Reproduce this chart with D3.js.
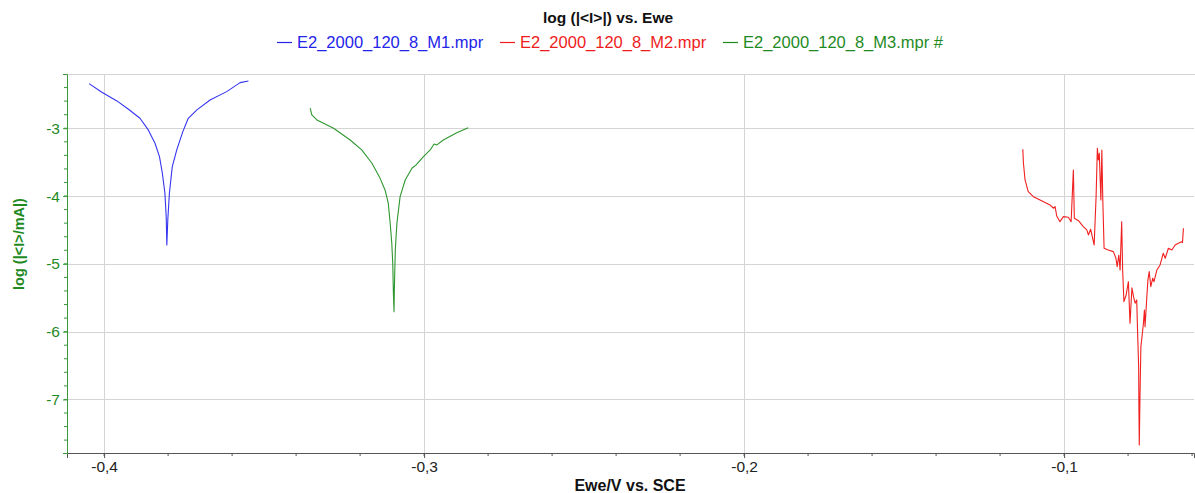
<!DOCTYPE html>
<html>
<head>
<meta charset="utf-8">
<script src="https://cdn.jsdelivr.net/npm/d3@7"></script>
<style>
  html, body { margin: 0; padding: 0; background: #fff; }
  svg { display: block; font-family: "Liberation Sans", Arial, sans-serif; }
</style>
</head>
<body>
<svg id="chart" width="1195" height="493"></svg>
<script>
// Tafel-style polarisation curves: log|I| against Ewe for three samples
const seriesNames = ["E2_2000_120_8_M1.mpr", "E2_2000_120_8_M2.mpr", "E2_2000_120_8_M3.mpr #"];
const seriesColors = ["#3535f0", "#f02020", "#2e962e"];
const legendColors = ["#2424e8", "#ee1c1c", "#1f8a1f"];

// M1 (Ewe / V vs. SCE, log |I/mA|)
const m1E = [-0.4047, -0.4007, -0.3960, -0.3924, -0.3888, -0.3862, -0.3841, -0.3827, -0.3818, -0.3810,
             -0.3806, -0.3804, -0.3801, -0.3796, -0.3787, -0.3773, -0.3754, -0.3737, -0.3710, -0.3669,
             -0.3617, -0.3575, -0.3549];
const m1LogI = [-2.342, -2.469, -2.597, -2.720, -2.853, -3.025, -3.221, -3.419, -3.664, -3.959,
                -4.304, -4.721, -4.352, -3.959, -3.566, -3.320, -3.050, -2.853, -2.730, -2.583,
                -2.460, -2.327, -2.302];

// M2
const m2E = [-0.1129, -0.1127, -0.1122, -0.1112, -0.1096, -0.1075, -0.1044, -0.1033, -0.1028, -0.1023,
             -0.1013, -0.1002, -0.0987, -0.0978, -0.0971, -0.0968, -0.0955, -0.0940, -0.0929, -0.0924,
             -0.0917, -0.0906, -0.0900, -0.0896, -0.0893, -0.0890, -0.0885, -0.0882, -0.0879, -0.0875,
             -0.0862, -0.0846, -0.0838, -0.0834, -0.0829, -0.0825, -0.0820, -0.0817, -0.0813, -0.0806,
             -0.0799, -0.0794, -0.0788, -0.0783, -0.0778, -0.0773, -0.0770, -0.0767, -0.0766, -0.0765,
             -0.0763, -0.0760, -0.0757, -0.0752, -0.0749, -0.0747, -0.0742, -0.0738, -0.0734, -0.0729,
             -0.0723, -0.0719, -0.0710, -0.0700, -0.0690, -0.0684, -0.0674, -0.0663, -0.0653, -0.0643,
             -0.0632, -0.0630, -0.0627];
const m2LogI = [-3.310, -3.516, -3.763, -3.935, -4.009, -4.058, -4.131, -4.180, -4.156, -4.294,
                -4.378, -4.304, -4.313, -4.378, -3.615, -4.327, -4.363, -4.451, -4.500, -4.574,
                -4.490, -4.721, -4.009, -3.295, -3.468, -3.369, -4.058, -3.320, -4.058, -4.770,
                -4.795, -4.820, -4.917, -5.041, -4.869, -5.090, -4.378, -5.090, -5.557, -5.459,
                -5.263, -5.876, -5.355, -5.484, -5.581, -5.532, -6.049, -6.516, -7.204, -7.671,
                -7.007, -6.221, -6.097, -5.876, -5.680, -5.926, -5.532, -5.237, -5.115, -5.336,
                -5.212, -5.263, -5.090, -5.016, -4.844, -4.917, -4.770, -4.795, -4.721, -4.696,
                -4.673, -4.687, -4.475];

// M3
const m3E = [-0.3356, -0.3351, -0.3335, -0.3283, -0.3231, -0.3195, -0.3163, -0.3140, -0.3122, -0.3112,
             -0.3106, -0.3101, -0.3098, -0.3096, -0.3094, -0.3093, -0.3090, -0.3085, -0.3075, -0.3059,
             -0.3038, -0.3025, -0.3002, -0.2981, -0.2969, -0.2960, -0.2940, -0.2898, -0.2862];
const m3LogI = [-2.705, -2.804, -2.878, -3.000, -3.173, -3.320, -3.516, -3.714, -3.910, -4.106,
                -4.401, -4.696, -4.991, -5.434, -5.705, -5.385, -4.795, -4.401, -4.009, -3.763,
                -3.590, -3.541, -3.419, -3.320, -3.232, -3.246, -3.173, -3.065, -2.991];

const xMajorTicks = [-0.4, -0.3, -0.2, -0.1];
const yMajorTicks = [-7, -6, -5, -4, -3];

const W = 1195, H = 493;
const margin = { left: 67, right: 1, top: 74, bottom: 40 };
const svg = d3.select("#chart");

const x = d3.scaleLinear().domain([-0.4116, -0.0594]).range([margin.left, W - margin.right]);
const y = d3.scaleLinear().domain([-7.79, -2.2]).range([H - margin.bottom, margin.top]);

const fmtX = v => d3.format(".1f")(v).replace("−", "-").replace(".", ",");
const fmtY = v => d3.format("d")(v).replace("−", "-");

// grid
const grid = svg.append("g").attr("stroke", "#d4d4d4").attr("stroke-width", 1);
xMajorTicks.forEach(t => grid.append("line")
  .attr("x1", Math.round(x(t)) + 0.5).attr("x2", Math.round(x(t)) + 0.5)
  .attr("y1", margin.top).attr("y2", H - margin.bottom));
yMajorTicks.forEach(t => grid.append("line")
  .attr("x1", margin.left).attr("x2", W - margin.right)
  .attr("y1", Math.round(y(t)) + 0.5).attr("y2", Math.round(y(t)) + 0.5));
grid.append("line").attr("x1", margin.left).attr("x2", W)
  .attr("y1", margin.top + 0.5).attr("y2", margin.top + 0.5);

// minor ticks
const xMinor = d3.range(-0.40, -0.059, 0.02).filter(v => v >= -0.4116);
const yMinor = d3.range(-7.8, -2.19, 0.2).filter(v => v >= -7.79 && v <= -2.2);

// x axis
const xAxisG = svg.append("g").attr("transform", `translate(0,${H - margin.bottom})`);
xAxisG.call(d3.axisBottom(x).tickValues(xMajorTicks).tickFormat(fmtX).tickSize(5).tickPadding(3));
xAxisG.selectAll(".tick text").attr("font-size", 15.5).attr("fill", "#222").attr("font-family", "Liberation Sans, Arial, sans-serif");
xAxisG.select(".domain").attr("stroke", "#555");
xAxisG.selectAll(".tick line").attr("stroke", "#555");
xAxisG.append("g").selectAll("line").data(xMinor).join("line")
  .attr("x1", d => x(d)).attr("x2", d => x(d)).attr("y1", 0).attr("y2", 3).attr("stroke", "#555");

// y axis
const yAxisG = svg.append("g").attr("transform", `translate(${margin.left},0)`);
yAxisG.call(d3.axisLeft(y).tickValues(yMajorTicks).tickFormat(fmtY).tickSize(4).tickPadding(3));
yAxisG.selectAll(".tick text").attr("font-size", 15.5).attr("fill", "#1f8a1f").attr("font-family", "Liberation Sans, Arial, sans-serif");
yAxisG.select(".domain").attr("stroke", "#3a9a3a");
yAxisG.selectAll(".tick line").attr("stroke", "#3a9a3a");
yAxisG.append("g").selectAll("line").data(yMinor).join("line")
  .attr("x1", -3).attr("x2", 0).attr("y1", d => y(d)).attr("y2", d => y(d)).attr("stroke", "#3a9a3a");

// curves
const series = [
  { E: m1E, L: m1LogI },
  { E: m2E, L: m2LogI },
  { E: m3E, L: m3LogI }
];
const line = d3.line().x(d => x(d[0])).y(d => y(d[1]));
const plot = svg.append("g");
series.forEach((s, i) => {
  plot.append("path")
    .datum(s.E.map((e, k) => [e, s.L[k]]))
    .attr("d", line)
    .attr("fill", "none")
    .attr("stroke", seriesColors[i])
    .attr("stroke-width", 1.1)
    .attr("stroke-linejoin", "round");
});

// title
svg.append("text").attr("x", 608).attr("y", 23).attr("text-anchor", "middle")
  .attr("font-size", 15.5).attr("font-weight", "bold").attr("fill", "#111")
  .text("log (|<I>|) vs. Ewe");

// legend
const legendX = [277, 500, 723];
const lg = svg.append("g");
seriesNames.forEach((n, i) => {
  lg.append("line").attr("x1", legendX[i]).attr("x2", legendX[i] + 15)
    .attr("y1", 42.5).attr("y2", 42.5).attr("stroke", legendColors[i]).attr("stroke-width", 1.2);
  lg.append("text").attr("x", legendX[i] + 20).attr("y", 48)
    .attr("font-size", 16.5).attr("fill", legendColors[i]).text(n);
});

// axis titles
svg.append("text").attr("x", 630).attr("y", 491).attr("text-anchor", "middle")
  .attr("font-size", 16).attr("font-weight", "bold").attr("fill", "#111")
  .text("Ewe/V vs. SCE");
svg.append("text").attr("transform", "translate(24,244) rotate(-90)").attr("text-anchor", "middle")
  .attr("font-size", 14.5).attr("font-weight", "bold").attr("fill", "#1f8a1f")
  .text("log (|<I>/mA|)");
</script>
</body>
</html>
